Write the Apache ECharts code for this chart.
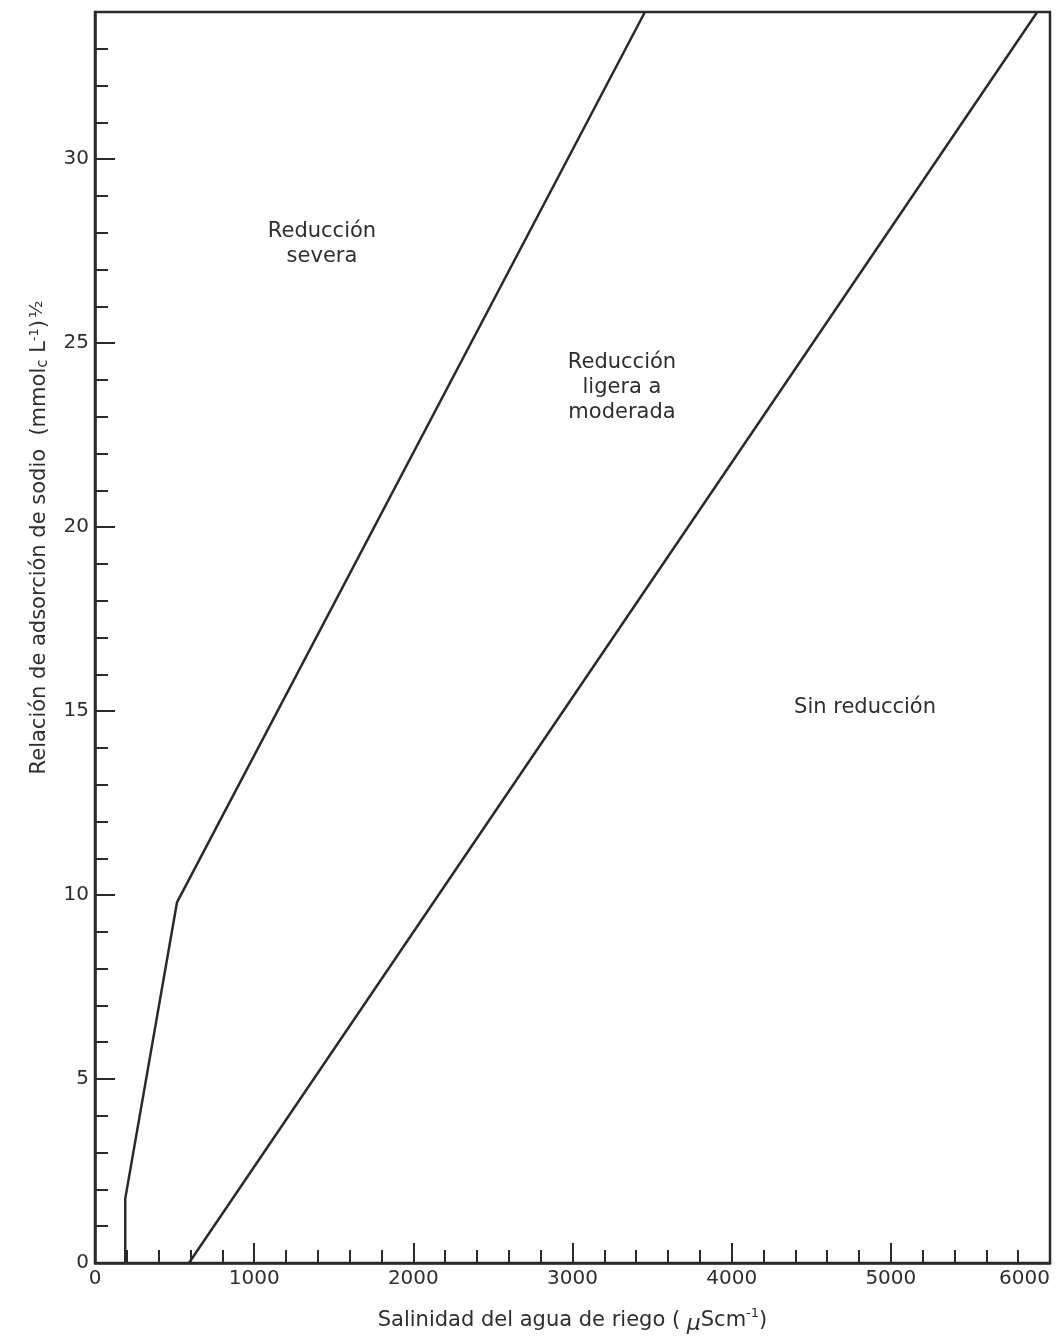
<!DOCTYPE html>
<html>
<head>
<meta charset="utf-8">
<script src="https://cdn.jsdelivr.net/npm/echarts@6/dist/echarts.min.js"></script>
<style>
  html, body { margin: 0; padding: 0; background: #fff; }
  #chart { width: 1056px; height: 1337px; }
</style>
</head>
<body>
<div id="chart"></div>
<script>
// Sodium adsorption ratio vs. irrigation-water salinity: infiltration reduction zones
const xTicks = [0, 1000, 2000, 3000, 4000, 5000, 6000];   // µS/cm
const yTicks = [0, 5, 10, 15, 20, 25, 30];                 // SAR

// Boundary between "severe" and "slight to moderate" reduction
const severeBoundary = [[190, 0], [190, 1.75], [515, 9.8], [3455, 34]];
// Boundary between "slight to moderate" and "no reduction"
const noneBoundary = [[590, 0], [5920, 34]];

// Zone labels and the point each one is centred on
const zoneNames = ['Reducción\nsevera', 'Reducción\nligera a\nmoderada', 'Sin reducción'];
const zoneAnchors = [[1426, 27.7], [3311, 23.8], [4838, 15.1]];

const ink = '#2a2a2a';
const textInk = '#2e2e2e';
const font = '"DejaVu Sans", "Noto Sans", sans-serif';

const chart = echarts.init(document.getElementById('chart'));

chart.setOption({
  backgroundColor: '#ffffff',
  animation: false,
  grid: {
    left: 95, right: 6, top: 12, bottom: 74,
    containLabel: false,
    outerBoundsMode: 'none',
    show: true, borderColor: ink, borderWidth: 2.5, backgroundColor: 'transparent'
  },
  xAxis: {
    type: 'value',
    min: xTicks[0], max: xTicks[xTicks.length - 1], interval: 1000,
    axisLine: { lineStyle: { color: ink, width: 2.5 } },
    axisTick: { inside: true, length: 20, lineStyle: { color: ink, width: 2 } },
    minorTick: { show: true, splitNumber: 5, length: 13, lineStyle: { color: ink, width: 2 } },
    splitLine: { show: false },
    axisLabel: {
      color: textInk, fontFamily: font, fontSize: 20, margin: 6,
      alignMaxLabel: 'right',
      formatter: v => String(v)
    },
    name: 'Salinidad del agua de riego ( {mu|µ}Scm{sup|-1})',
    nameLocation: 'middle',
    nameGap: 44,
    nameTextStyle: {
      color: textInk, fontFamily: font, fontSize: 21,
      rich: {
        mu: { fontFamily: font, fontSize: 22, color: textInk, fontStyle: 'italic', verticalAlign: 'bottom', padding: [6, 0, 0, 0] },
        sup: { fontFamily: font, fontSize: 13, color: textInk, verticalAlign: 'top', padding: [0, 0, 6, 0] }
      }
    }
  },
  yAxis: {
    type: 'value',
    min: 0, max: 34, interval: 5,
    axisLine: { lineStyle: { color: ink, width: 2.5 } },
    axisTick: { inside: true, length: 20, lineStyle: { color: ink, width: 2 } },
    minorTick: { show: true, splitNumber: 5, length: 13, lineStyle: { color: ink, width: 2 } },
    splitLine: { show: false },
    axisLabel: {
      color: textInk, fontFamily: font, fontSize: 20, margin: 6,
      formatter: v => (yTicks.indexOf(v) >= 0 ? String(v) : '')
    },
    name: 'Relación de adsorción de sodio  (mmol{sub|c} L{sup|-1}){half|½}',
    nameLocation: 'middle',
    nameGap: 44,
    nameRotate: 90,
    nameTextStyle: {
      color: textInk, fontFamily: font, fontSize: 21,
      padding: [0, 0, 0, 200],
      rich: {
        sub: { fontFamily: font, fontSize: 15, color: textInk, verticalAlign: 'bottom', padding: [8, 0, 0, 0] },
        sup: { fontFamily: font, fontSize: 13, color: textInk, verticalAlign: 'top', padding: [0, 0, 6, 0] },
        half: { fontFamily: font, fontSize: 18, color: textInk, verticalAlign: 'top', padding: [0, 0, 4, 2] }
      }
    }
  },
  series: [
    {
      type: 'line',
      data: severeBoundary,
      symbol: 'none',
      lineStyle: { color: ink, width: 2.5 },
      silent: true
    },
    {
      type: 'line',
      data: noneBoundary,
      symbol: 'none',
      lineStyle: { color: ink, width: 2.5 },
      silent: true
    },
    {
      type: 'scatter',
      symbolSize: 0,
      silent: true,
      itemStyle: { opacity: 1 },
      data: zoneAnchors.map((p, i) => ({ value: p, name: zoneNames[i] })),
      label: {
        show: true,
        position: 'inside',
        formatter: p => p.name,
        color: textInk,
        opacity: 1,
        fontFamily: font,
        fontSize: 21,
        lineHeight: 25,
        align: 'center',
        verticalAlign: 'middle'
      }
    }
  ]
});
</script>
</body>
</html>
